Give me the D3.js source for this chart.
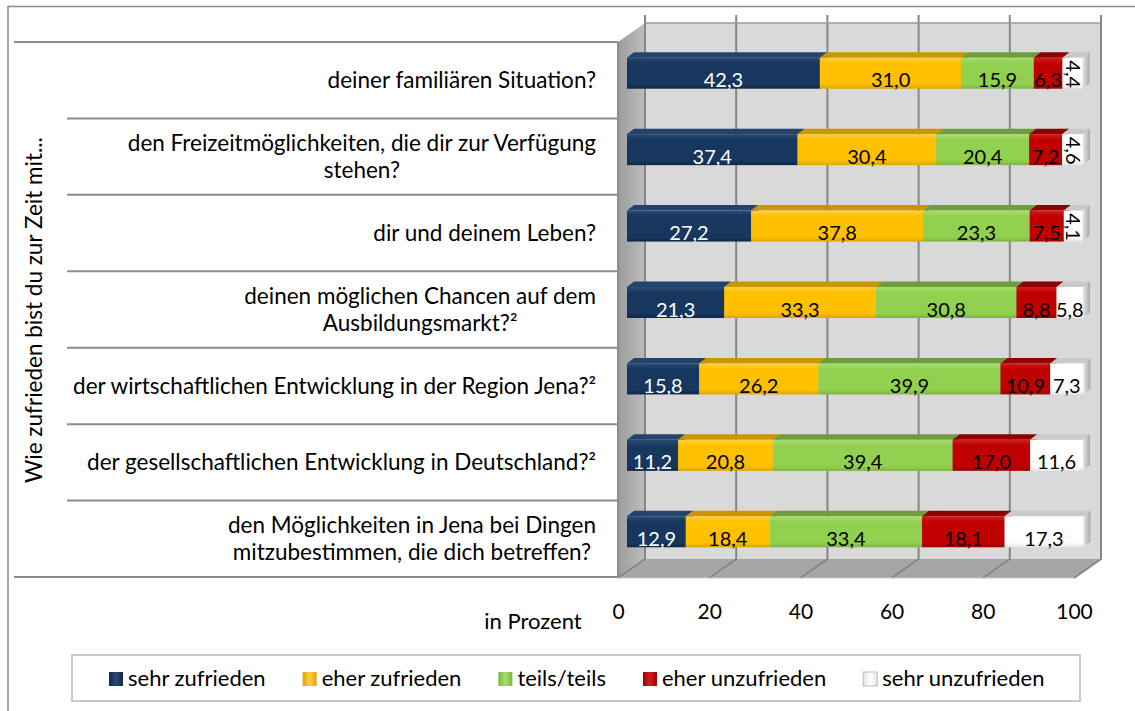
<!DOCTYPE html>
<html>
<head>
<meta charset="utf-8">
<script src="https://cdn.jsdelivr.net/npm/d3@7"></script>
<style>
  body { margin: 0; background: #fff; }
  svg { display: block; font-family: Lato, "Open Sans", sans-serif; }
</style>
</head>
<body>
<svg id="chart"></svg>
<script>
var width = 1135, height = 711;

// data
var categories = [
  ["deiner familiären Situation?"],
  ["den Freizeitmöglichkeiten, die dir zur Verfügung", "stehen?"],
  ["dir und deinem Leben?"],
  ["deinen möglichen Chancen auf dem", "Ausbildungsmarkt?²"],
  ["der wirtschaftlichen Entwicklung in der Region Jena?²"],
  ["der gesellschaftlichen Entwicklung in Deutschland?²"],
  ["den Möglichkeiten in Jena bei Dingen", "mitzubestimmen, die dich betreffen?"]
];
var seriesNames = ["sehr zufrieden", "eher zufrieden", "teils/teils", "eher unzufrieden", "sehr unzufrieden"];
var sehrZufrieden   = [42.3, 37.4, 27.2, 21.3, 15.8, 11.2, 12.9];
var eherZufrieden   = [31.0, 30.4, 37.8, 33.3, 26.2, 20.8, 18.4];
var teilsTeils      = [15.9, 20.4, 23.3, 30.8, 39.9, 39.4, 33.4];
var eherUnzufrieden = [6.3, 7.2, 7.5, 8.8, 10.9, 17.0, 18.1];
var sehrUnzufrieden = [4.4, 4.6, 4.1, 5.8, 7.3, 11.6, 17.3];
var tickValues = [0, 20, 40, 60, 80, 100];

var colors = [
  { base: "#17375e", light: "#2b4b75", dark: "#0f2846", top: "#23436c", cap: "#14304f", text: "#fff" },
  { base: "#ffc000", light: "#ffd040", dark: "#dca400", top: "#c99700", cap: "#c99700", text: "#000" },
  { base: "#92d050", light: "#a8de70", dark: "#7cb440", top: "#6f9c3d", cap: "#6f9c3d", text: "#000" },
  { base: "#c00000", light: "#d41e1e", dark: "#a00000", top: "#8c0000", cap: "#8c0000", text: "#000" },
  { base: "#ffffff", light: "#ffffff", dark: "#e4e4e4", top: "#c9c9c9", cap: "#c4c4c4", text: "#000" }
];

var allSeries = [sehrZufrieden, eherZufrieden, teilsTeils, eherUnzufrieden, sehrUnzufrieden];
var rows = categories.map(function(c, i) {
  var row = { idx: i };
  seriesNames.forEach(function(s, j) { row[s] = allSeries[j][i]; });
  return row;
});
var stacked = d3.stack().keys(seriesNames)(rows);

var de = d3.formatLocale({ decimal: ",", thousands: ".", grouping: [3], currency: ["", " €"] });
var fmt = de.format(".1f");

var svg = d3.select("#chart").attr("width", width).attr("height", height);
var defs = svg.append("defs");

colors.forEach(function(c, i) {
  var g = defs.append("linearGradient").attr("id", "front" + i)
    .attr("x1", 0).attr("y1", 0).attr("x2", 0).attr("y2", 1);
  g.append("stop").attr("offset", "0").attr("stop-color", c.light);
  g.append("stop").attr("offset", "0.18").attr("stop-color", c.base);
  g.append("stop").attr("offset", "0.85").attr("stop-color", c.base);
  g.append("stop").attr("offset", "1").attr("stop-color", c.dark);
  var lg = defs.append("linearGradient").attr("id", "leg" + i)
    .attr("x1", 0).attr("y1", 0).attr("x2", 1).attr("y2", 0);
  lg.append("stop").attr("offset", "0").attr("stop-color", c.dark);
  lg.append("stop").attr("offset", "0.5").attr("stop-color", c.light);
  lg.append("stop").attr("offset", "1").attr("stop-color", c.dark);
});
var capG = defs.append("linearGradient").attr("id", "capgrad")
  .attr("x1", 0).attr("y1", 0).attr("x2", 1).attr("y2", 0);
capG.append("stop").attr("offset", "0").attr("stop-color", "#e6e6e6");
capG.append("stop").attr("offset", "1").attr("stop-color", "#a8a8a8");
var sideG = defs.append("linearGradient").attr("id", "sidegrad")
  .attr("x1", 0).attr("y1", 0).attr("x2", 1).attr("y2", 0);
sideG.append("stop").attr("offset", "0").attr("stop-color", "#9c9c9c");
sideG.append("stop").attr("offset", "1").attr("stop-color", "#bdbdbd");

// outer frame
svg.append("rect").attr("x", 8).attr("y", 6.5).attr("width", 1140).attr("height", 720)
  .attr("fill", "none").attr("stroke", "#8c8c8c").attr("stroke-width", 1.5);

// scales
var xBack = d3.scaleLinear().domain([0, 100]).range([645, 1101]);
var xFront = d3.scaleLinear().domain([0, 100]).range([618, 1074]);
var xBar = d3.scaleLinear().domain([0, 100]).range([627, 1083]);
var yBand = d3.scaleBand().domain(d3.range(categories.length)).range([42, 577]);
var wallTop = 23, wallBottom = 559, floorFront = 578;
var depthY = floorFront - wallBottom;

// back wall
svg.append("rect").attr("x", xBack(0)).attr("y", wallTop)
  .attr("width", xBack(100) - xBack(0)).attr("height", wallBottom - wallTop)
  .attr("fill", "#d9d9d9");
// side wall
svg.append("path")
  .attr("d", "M" + xFront(0) + "," + (wallTop + depthY) + "L" + xBack(0) + "," + wallTop +
    "L" + xBack(0) + "," + wallBottom + "L" + xFront(0) + "," + floorFront + "Z")
  .attr("fill", "url(#sidegrad)");
// floor
svg.append("path")
  .attr("d", "M" + xBack(0) + "," + wallBottom + "L" + xBack(100) + "," + wallBottom +
    "L" + xFront(100) + "," + floorFront + "L" + xFront(0) + "," + floorFront + "Z")
  .attr("fill", "#a6a6a6");

// gridlines on wall and floor
svg.append("g").selectAll("path").data(tickValues).enter().append("path")
  .attr("d", function(d) {
    return "M" + xBack(d) + "," + (wallTop - 8) + "L" + xBack(d) + "," + wallBottom +
      "L" + xFront(d) + "," + floorFront;
  })
  .attr("fill", "none").attr("stroke", "#868686").attr("stroke-width", 2);
svg.append("line").attr("x1", xBack(0)).attr("x2", xBack(100))
  .attr("y1", wallTop).attr("y2", wallTop).attr("stroke", "#9a9a9a").attr("stroke-width", 1.5);
svg.append("line").attr("x1", xFront(0)).attr("x2", xFront(100))
  .attr("y1", floorFront).attr("y2", floorFront).attr("stroke", "#c8c8c8").attr("stroke-width", 1);

// table lines on the left
var lineYs = d3.range(categories.length + 1).map(function(i) {
  return i < categories.length ? yBand(i) : yBand.range()[1];
});
svg.append("g").selectAll("line").data(lineYs).enter().append("line")
  .attr("x1", function(d, i) { return (i === 0 || i === categories.length) ? 14 : 67; })
  .attr("x2", xFront(0))
  .attr("y1", function(d) { return d; }).attr("y2", function(d) { return d; })
  .attr("stroke", "#8c8c8c").attr("stroke-width", 2);
svg.append("line").attr("x1", xFront(0)).attr("x2", xFront(0))
  .attr("y1", 42).attr("y2", 577).attr("stroke", "#8c8c8c").attr("stroke-width", 2);

// category labels
var labelRight = 596;
categories.forEach(function(lines, i) {
  var cy = yBand(i) + yBand.bandwidth() / 2;
  var g = svg.append("g");
  var texts = lines.map(function(l) {
    return g.append("text").text(l).attr("font-size", 22.5).attr("fill", "#000")
      .attr("text-anchor", "middle");
  });
  var maxW = d3.max(texts, function(t) { return t.node().getComputedTextLength(); });
  var lh = 27;
  texts.forEach(function(t, k) {
    t.attr("x", labelRight - maxW / 2)
      .attr("y", cy + (k - (lines.length - 1) / 2) * lh + 8);
  });
});

// y title
svg.append("text")
  .attr("transform", "translate(42,310) rotate(-90)")
  .attr("text-anchor", "middle").attr("font-size", 22.5)
  .text("Wie zufrieden bist du zur Zeit mit...");

// bars
var faceH = 31, topH = 5.5, capW = 7;
var layers = svg.append("g").selectAll("g").data(stacked).enter().append("g");
var segs = layers.selectAll("g.seg").data(function(d, j) {
  return d.map(function(p) { return { s: j, x0: p[0], x1: p[1], i: p.data.idx, v: p.data[seriesNames[j]] }; });
}).enter().append("g").attr("class", "seg");

function faceTop(d) { return yBand(d.i) + yBand.bandwidth() / 2 - 7 - faceH / 2; }

segs.append("path").attr("d", function(d) {
  var x0 = xBar(d.x0), x1 = xBar(d.x1), y = faceTop(d);
  return "M" + x0 + "," + y + "L" + (x0 + capW) + "," + (y - topH) + "L" + (x1 + capW) + "," + (y - topH) +
    "L" + x1 + "," + y + "Z";
}).attr("fill", function(d) { return colors[d.s].top; });
segs.append("path").attr("d", function(d) {
  var x1 = xBar(d.x1), y = faceTop(d);
  return "M" + x1 + "," + y + "L" + (x1 + capW) + "," + (y - topH) + "L" + (x1 + capW) + "," + (y - topH + faceH) +
    "L" + x1 + "," + (y + faceH) + "Z";
}).attr("fill", function(d) { return d.s === 4 ? "url(#capgrad)" : colors[d.s].cap; });
segs.append("rect")
  .attr("x", function(d) { return xBar(d.x0); })
  .attr("y", faceTop)
  .attr("width", function(d) { return xBar(d.x1) - xBar(d.x0); })
  .attr("height", faceH)
  .attr("fill", function(d) { return "url(#front" + d.s + ")"; });

// value labels
segs.append("text")
  .attr("font-size", 20)
  .attr("fill", function(d) { return colors[d.s].text; })
  .attr("text-anchor", "middle")
  .attr("dominant-baseline", "central")
  .attr("transform", function(d) {
    var cx = (xBar(d.x0) + xBar(d.x1)) / 2, cy = faceTop(d) + faceH / 2;
    return d.v < 5 ? "translate(" + (cx + 1) + "," + (cy + 1) + ") rotate(90)" : "translate(" + cx + "," + (cy + 6) + ")";
  })
  .text(function(d) { return fmt(d.v); });

// x axis labels
var axis = svg.append("g").attr("transform", "translate(0,612)")
  .call(d3.axisBottom(xFront).tickValues(tickValues).tickSize(0).tickPadding(0).tickFormat(d3.format("d")));
axis.select(".domain").remove();
axis.selectAll("text").attr("font-size", 21).attr("font-family", "Lato, sans-serif")
  .attr("fill", "#000").attr("dy", "0.35em").attr("y", 0);

svg.append("text").attr("x", 533).attr("y", 629).attr("text-anchor", "middle")
  .attr("font-size", 22).text("in Prozent");

// legend
svg.append("rect").attr("x", 72).attr("y", 655).attr("width", 1008).attr("height", 46)
  .attr("fill", "#fff").attr("stroke", "#c8c8c8").attr("stroke-width", 2);
var lx = 109;
seriesNames.forEach(function(name, i) {
  svg.append("rect").attr("x", lx).attr("y", 672).attr("width", 14).attr("height", 14)
    .attr("fill", "url(#leg" + i + ")").attr("stroke", i === 4 ? "#bbb" : "none");
  var t = svg.append("text").attr("x", lx + 19).attr("y", 686).attr("font-size", 22).text(name);
  lx += 19 + t.node().getComputedTextLength() + 37;
});
</script>
</body>
</html>
